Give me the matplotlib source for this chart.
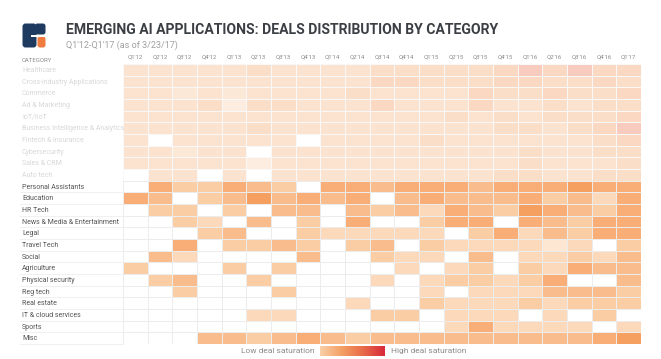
import matplotlib
matplotlib.use("Agg")
import matplotlib.pyplot as plt
import numpy as np
from matplotlib.colors import LinearSegmentedColormap
from matplotlib.patches import Rectangle, FancyBboxPatch
from matplotlib.transforms import blended_transform_factory

quarters = ["Q1'12", "Q2'12", "Q3'12", "Q4'12", "Q1'13", "Q2'13", "Q3'13", "Q4'13",
            "Q1'14", "Q2'14", "Q3'14", "Q4'14", "Q1'15", "Q2'15", "Q3'15", "Q4'15",
            "Q1'16", "Q2'16", "Q3'16", "Q4'16", "Q1'17"]

faded_categories = ["Healthcare", "Cross-industry Applications", "Commerce", "Ad & Marketing",
                    "IoT/IIoT", "Business Intelligence & Analytics", "Fintech & Insurance",
                    "Cybersecurity", "Sales & CRM", "Auto tech"]

categories = ["Personal Assistants", "Education", "HR Tech", "News & Media & Entertainment",
              "Legal", "Travel Tech", "Social", "Agriculture", "Physical security",
              "Reg tech", "Real estate", "IT & cloud services", "Sports", "Misc"]

# saturation score per quarter (0 = no deals)
faded_values = [
    [3, 3, 3, 3, 3, 3.5, 3, 3, 3, 3, 3.5, 3.5, 3.5, 3.5, 3.5, 4, 4.5, 4, 4.5, 4, 4],
    [3, 3, 3, 3, 3, 3, 3, 3, 3, 3, 4, 4, 3.5, 3.5, 3.5, 4, 4, 3.5, 3.5, 4, 3.5],
    [3, 3, 2.5, 3, 2.5, 3, 3, 3, 3, 3.5, 3, 3, 3, 3, 4, 3.5, 3.5, 4, 3.5, 3.5, 4],
    [3, 3, 3, 3.5, 2, 3.5, 3.5, 3, 3, 3, 4, 3, 3, 3, 4, 3, 3, 3.5, 3, 3.5, 3.5],
    [3, 3, 3, 3, 3, 3, 3, 3, 3, 3, 3, 3, 3, 3.5, 3, 3.5, 3, 3.5, 3.5, 3.5, 4],
    [3, 3, 3, 3, 3, 3.5, 3, 3, 3, 3, 3, 3, 3, 3, 3, 3.5, 3.5, 3, 3.5, 4, 4.5],
    [3, 0, 3, 3, 3, 3, 3, 0, 3, 3, 3, 3, 3.5, 3, 3, 3, 3, 3, 3, 3.5, 4],
    [3, 3, 2.5, 3, 3, 0, 3, 3, 3, 3, 3, 3, 3, 3, 3, 3, 3.5, 3, 3, 3.5, 3.5],
    [3, 3, 3, 3, 3, 2, 3, 3, 3, 3, 3, 3, 3, 3, 3, 3, 3.5, 3, 3, 3, 3.5],
    [0, 3, 3, 0, 3, 0, 3, 3, 3, 3, 3, 3, 3, 3, 3, 3.5, 3.5, 3, 3, 3.5, 3.5],
]

values = [
    [0, 3, 2, 2, 3, 2.5, 2, 0, 3, 3, 2.5, 3, 3, 3, 2.5, 3, 3, 3, 3.5, 3, 3],
    [3, 2.5, 0, 2, 2.5, 3.5, 2.5, 3, 2.5, 3, 0, 2.5, 3, 2.5, 2.5, 2.5, 3, 2, 2.5, 1.5, 3],
    [0, 2, 2, 0, 2, 0, 2.5, 2.5, 0, 2.5, 2, 2.5, 1.5, 3, 2.5, 2, 3.5, 3, 2.5, 2, 3],
    [0, 0, 2, 1.5, 0, 2.5, 0, 2, 0, 3, 0, 0, 2, 3, 3, 0, 3, 2.5, 2, 3, 3],
    [0, 0, 0, 2, 2.5, 0, 0, 2, 1.5, 1.5, 1.5, 1.5, 1.5, 0, 2, 3, 1.5, 2.5, 2, 3, 3],
    [0, 0, 3, 0, 2, 2, 2.5, 2, 0, 2, 2.5, 0, 2, 1.5, 1.5, 1.5, 1.5, 1, 1.5, 0, 2],
    [0, 2.5, 1.5, 0, 0, 0, 0, 2.5, 0, 0, 2, 1.5, 1.5, 0, 2.5, 0, 1.5, 1.5, 2, 1.5, 2.5],
    [2, 0, 0, 0, 2, 0, 2, 0, 0, 0, 0, 1.5, 0, 1.5, 2, 0, 2, 1.5, 3, 2.5, 2.5],
    [0, 2, 2.5, 0, 0, 2, 0, 0, 0, 0, 1.5, 0, 1.5, 2, 2, 1.5, 2, 3, 0, 0, 2.5],
    [0, 0, 2, 0, 0, 0, 2, 0, 0, 0, 0, 0, 1.5, 0, 1.5, 1.5, 1.5, 2.5, 2.5, 2.5, 2],
    [0, 0, 0, 0, 0, 0, 0, 0, 0, 1.5, 0, 0, 2, 1.5, 1.5, 1.5, 2, 1.5, 2, 2, 2],
    [0, 0, 0, 0, 0, 1.5, 1.5, 0, 0, 0, 2, 2, 0, 1.5, 1.5, 1.5, 0, 1.5, 0, 2, 0],
    [0, 0, 0, 0, 0, 0, 0, 0, 0, 0, 0, 0, 0, 1.5, 3, 1.5, 1.5, 1.5, 1.5, 0, 1.5],
    [0, 0, 0, 2.5, 2.5, 2, 2.5, 3, 2.5, 2, 2.5, 2.5, 2.5, 2.5, 2.5, 2.5, 2.5, 2.5, 2.5, 3, 3.5],
]

cmap = LinearSegmentedColormap.from_list(
    "sat", ["#fde6d2", "#fbcda5", "#f8ae76", "#f3904c", "#e0453c"])
cmap.set_bad("white")

all_rows = faded_categories + categories
grid = np.array(faded_values + values, dtype=float)
grid = np.ma.masked_equal(grid, 0)

W, H = 661, 359
plt.rcParams["font.family"] = ["Roboto", "DejaVu Sans"]
fig = plt.figure(figsize=(W / 100, H / 100), dpi=100)
fig.patch.set_facecolor("white")
renderer = fig.canvas.get_renderer()


def fx(px):
    return px / W


def fy(py):
    return 1 - py / H


def fit_width(txt, target_px):
    # scale the font so the text spans the same width as in the original
    w = txt.get_window_extent(renderer).width
    txt.set_fontsize(txt.get_fontsize() * target_px / w)


# heatmap
ax = fig.add_axes([fx(123), fy(344), fx(641) - fx(123), fy(64) - fy(344)])
ax.pcolormesh(grid, cmap=cmap, vmin=1, vmax=5, edgecolors="#ececec", linewidth=0.6)
ax.set_xlim(0, len(quarters))
ax.set_ylim(len(all_rows), 0)
for s in ax.spines.values():
    s.set_visible(False)
ax.xaxis.tick_top()
ax.set_xticks(np.arange(len(quarters)) + 0.5)
ax.set_xticklabels(quarters, fontsize=4.3, color="#8a8a8a")
ax.tick_params(axis="x", length=0, pad=3)
ax.set_yticks([])

# washed-out overlay on the first block of categories
n_fade = len(faded_categories)
ax.add_patch(Rectangle((0, 0), len(quarters), n_fade, facecolor="white",
                       alpha=0.66, edgecolor="none", zorder=3))

# row labels and separators
tr = blended_transform_factory(fig.transFigure, ax.transData)
for i, name in enumerate(all_rows):
    faded = i < n_fade
    ax.text(fx(22), i + 0.55, name, transform=tr, fontsize=5.0,
            color="#d8d8d8" if faded else "#555555", va="center", ha="left")
    if not faded:
        ax.plot([fx(20), fx(123)], [i + 1, i + 1], transform=tr, color="#eeeeee",
                lw=0.6, clip_on=False)

fig.text(fx(22), fy(60), "CATEGORY", fontsize=4.3, color="#8a8a8a", va="center")

# title block
title = fig.text(fx(66), fy(30), "EMERGING AI APPLICATIONS: DEALS DISTRIBUTION BY CATEGORY",
                 fontsize=11, fontweight="bold", color="#3b3f44", va="center")
fit_width(title, 434)
sub = fig.text(fx(66), fy(45), "Q1'12-Q1'17 (as of 3/23/17)", fontsize=6.5, color="#a0a0a0",
               va="center")

# logo
lax = fig.add_axes([fx(22), fy(48), fx(46) - fx(22), fy(23) - fy(48)])
lax.set_xlim(0, 24)
lax.set_ylim(25, 0)
lax.axis("off")
lax.add_patch(FancyBboxPatch((0.5, 0.5), 14, 24, boxstyle="round,pad=0,rounding_size=3",
                             facecolor="#1e3a5f", edgecolor="none"))
lax.add_patch(FancyBboxPatch((13, 0.5), 10.5, 11, boxstyle="round,pad=0,rounding_size=2.5",
                             facecolor="#1e3a5f", edgecolor="none"))
lax.add_patch(FancyBboxPatch((15.5, 13.5), 8, 11, boxstyle="round,pad=0,rounding_size=2.5",
                             facecolor="#ef7b3e", edgecolor="none"))
lax.add_patch(Rectangle((9, 11.5), 16, 2, facecolor="white", edgecolor="none"))

# legend gradient
gax = fig.add_axes([fx(320), fy(356), fx(385) - fx(320), fy(346) - fy(356)])
gax.imshow(np.linspace(0, 1, 200)[None, :], aspect="auto",
           cmap=LinearSegmentedColormap.from_list("leg", ["#fad0a8", "#f4a064", "#e86a4a", "#d82a3a"]))
gax.axis("off")
fig.text(fx(315), fy(351), "Low deal saturation", fontsize=6, color="#8a8a8a",
         ha="right", va="center")
fig.text(fx(391), fy(351), "High deal saturation", fontsize=6, color="#8a8a8a",
         ha="left", va="center")

fig.savefig("out.png", dpi=100, facecolor="white")
